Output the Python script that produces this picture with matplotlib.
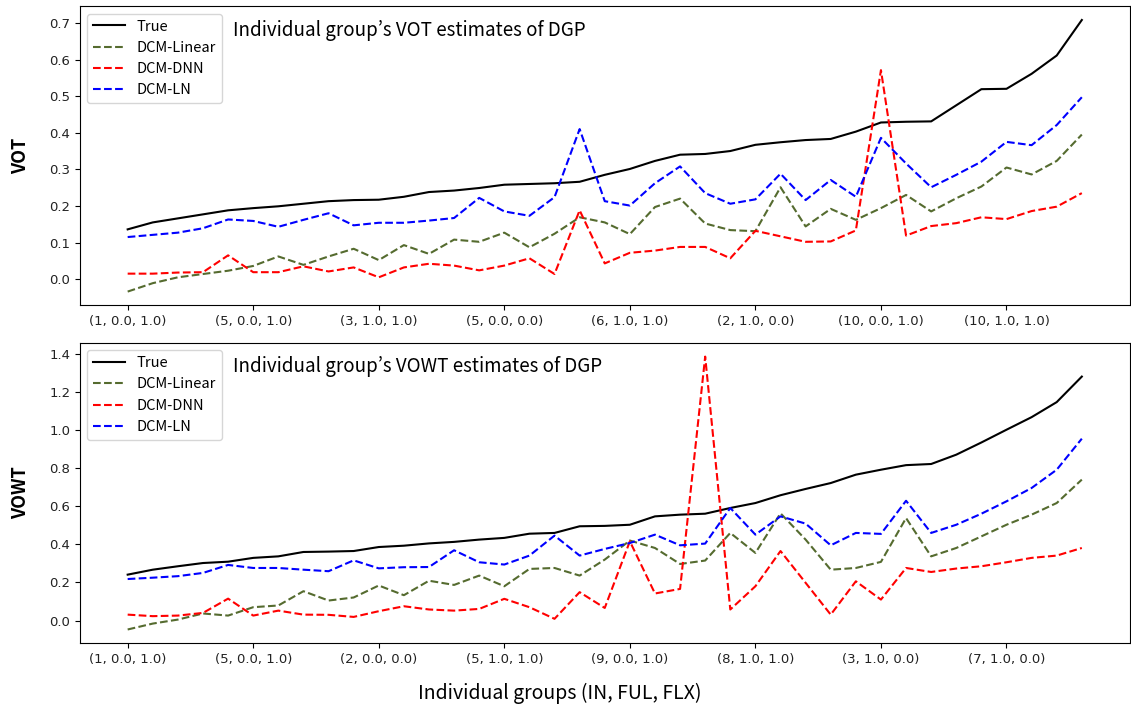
import numpy as np
import matplotlib
matplotlib.use('Agg')
import matplotlib.pyplot as plt

# VOT estimates per individual group
vot_true = [0.136, 0.155, 0.166, 0.177, 0.188, 0.194, 0.199, 0.206, 0.213, 0.216,
            0.217, 0.225, 0.238, 0.242, 0.249, 0.258, 0.260, 0.262, 0.266, 0.285,
            0.301, 0.323, 0.340, 0.342, 0.350, 0.367, 0.374, 0.380, 0.383, 0.403,
            0.428, 0.430, 0.431, 0.475, 0.519, 0.520, 0.561, 0.611, 0.708]
vot_linear = [-0.034, -0.011, 0.005, 0.014, 0.023, 0.036, 0.062, 0.039, 0.062, 0.083,
              0.052, 0.093, 0.069, 0.108, 0.102, 0.127, 0.087, 0.124, 0.169, 0.155,
              0.123, 0.197, 0.220, 0.152, 0.134, 0.131, 0.251, 0.144, 0.192, 0.162,
              0.194, 0.230, 0.185, 0.221, 0.253, 0.305, 0.286, 0.323, 0.395]
vot_dnn = [0.015, 0.015, 0.018, 0.019, 0.065, 0.019, 0.019, 0.035, 0.021, 0.032,
           0.005, 0.032, 0.042, 0.037, 0.024, 0.037, 0.057, 0.014, 0.188, 0.043,
           0.072, 0.078, 0.088, 0.088, 0.057, 0.132, 0.117, 0.102, 0.103, 0.133,
           0.571, 0.119, 0.145, 0.153, 0.169, 0.164, 0.186, 0.198, 0.235]
vot_ln = [0.115, 0.121, 0.127, 0.139, 0.163, 0.159, 0.143, 0.162, 0.180, 0.147,
          0.154, 0.154, 0.160, 0.167, 0.222, 0.185, 0.173, 0.224, 0.410, 0.213,
          0.201, 0.262, 0.308, 0.235, 0.206, 0.218, 0.288, 0.216, 0.271, 0.225,
          0.386, 0.316, 0.251, 0.285, 0.321, 0.375, 0.366, 0.421, 0.497]
vot_ticklabels = ['(1, 0.0, 1.0)', '(5, 0.0, 1.0)', '(3, 1.0, 1.0)', '(5, 0.0, 0.0)',
                  '(6, 1.0, 1.0)', '(2, 1.0, 0.0)', '(10, 0.0, 1.0)', '(10, 1.0, 1.0)']

# VOWT estimates per individual group
vowt_true = [0.241, 0.267, 0.285, 0.302, 0.309, 0.329, 0.337, 0.360, 0.362, 0.365,
             0.386, 0.393, 0.405, 0.413, 0.425, 0.434, 0.456, 0.460, 0.495, 0.497,
             0.503, 0.547, 0.556, 0.561, 0.591, 0.617, 0.658, 0.691, 0.722, 0.766,
             0.792, 0.816, 0.822, 0.871, 0.935, 1.002, 1.068, 1.147, 1.281]
vowt_linear = [-0.047, -0.016, 0.005, 0.037, 0.026, 0.070, 0.079, 0.154, 0.105, 0.121,
               0.184, 0.133, 0.209, 0.187, 0.236, 0.180, 0.271, 0.276, 0.236, 0.320,
               0.420, 0.381, 0.297, 0.315, 0.460, 0.355, 0.563, 0.425, 0.267, 0.276,
               0.308, 0.538, 0.337, 0.381, 0.442, 0.503, 0.556, 0.617, 0.740]
vowt_dnn = [0.031, 0.023, 0.026, 0.040, 0.115, 0.026, 0.052, 0.031, 0.030, 0.019,
            0.049, 0.075, 0.058, 0.052, 0.061, 0.114, 0.070, 0.009, 0.149, 0.066,
            0.416, 0.142, 0.166, 1.386, 0.058, 0.180, 0.365, 0.198, 0.031, 0.206,
            0.110, 0.276, 0.255, 0.273, 0.285, 0.306, 0.329, 0.341, 0.381]
vowt_ln = [0.218, 0.225, 0.233, 0.250, 0.292, 0.276, 0.276, 0.267, 0.259, 0.316,
           0.274, 0.280, 0.281, 0.369, 0.306, 0.294, 0.341, 0.446, 0.341, 0.376,
           0.407, 0.451, 0.395, 0.404, 0.591, 0.451, 0.547, 0.509, 0.395, 0.460,
           0.455, 0.629, 0.460, 0.503, 0.561, 0.626, 0.696, 0.792, 0.955]
vowt_ticklabels = ['(1, 0.0, 1.0)', '(5, 0.0, 1.0)', '(2, 0.0, 0.0)', '(5, 1.0, 1.0)',
                   '(9, 0.0, 1.0)', '(8, 1.0, 1.0)', '(3, 1.0, 0.0)', '(7, 1.0, 0.0)']

KFONT = ['Noto Sans CJK KR', 'DejaVu Sans']

fig = plt.figure(figsize=(11.31, 7.13), dpi=100)
ax1 = fig.add_axes([0.0707, 0.572, 0.928, 0.419])
ax2 = fig.add_axes([0.0707, 0.098, 0.928, 0.421])


def draw(ax, true, lin, dnn, ln, ticklabels, ylabel, title):
    x = np.arange(len(true))
    ax.plot(x, true, '-', color='black', lw=1.5, label='True')
    ax.plot(x, lin, '--', color='darkolivegreen', lw=1.5, label='DCM-Linear')
    ax.plot(x, dnn, '--', color='red', lw=1.5, label='DCM-DNN')
    ax.plot(x, ln, '--', color='blue', lw=1.5, label='DCM-LN')
    ax.set_xticks(np.arange(0, len(true), 5))
    ax.set_xticklabels(ticklabels)
    ax.tick_params(labelsize=9.5, labelcolor='#222222')
    ax.set_ylabel(ylabel, family=KFONT, fontsize=13, fontweight='bold', labelpad=14)
    ax.text(0.146, 0.92, title, transform=ax.transAxes, family=KFONT,
            fontsize=13.5, va='center', ha='left')
    ax.legend(loc='upper left', prop={'family': KFONT, 'size': 10.5},
              handlelength=2.2, borderaxespad=0.5)


draw(ax1, vot_true, vot_linear, vot_dnn, vot_ln, vot_ticklabels, 'VOT',
     'Individual group\u2019s VOT estimates of DGP')
draw(ax2, vowt_true, vowt_linear, vowt_dnn, vowt_ln, vowt_ticklabels, 'VOWT',
     'Individual group\u2019s VOWT estimates of DGP')
fig.text(0.495, 0.028, 'Individual groups (IN, FUL, FLX)', family=KFONT,
         fontsize=14, ha='center', va='center')

plt.savefig('out.png', dpi=100)
